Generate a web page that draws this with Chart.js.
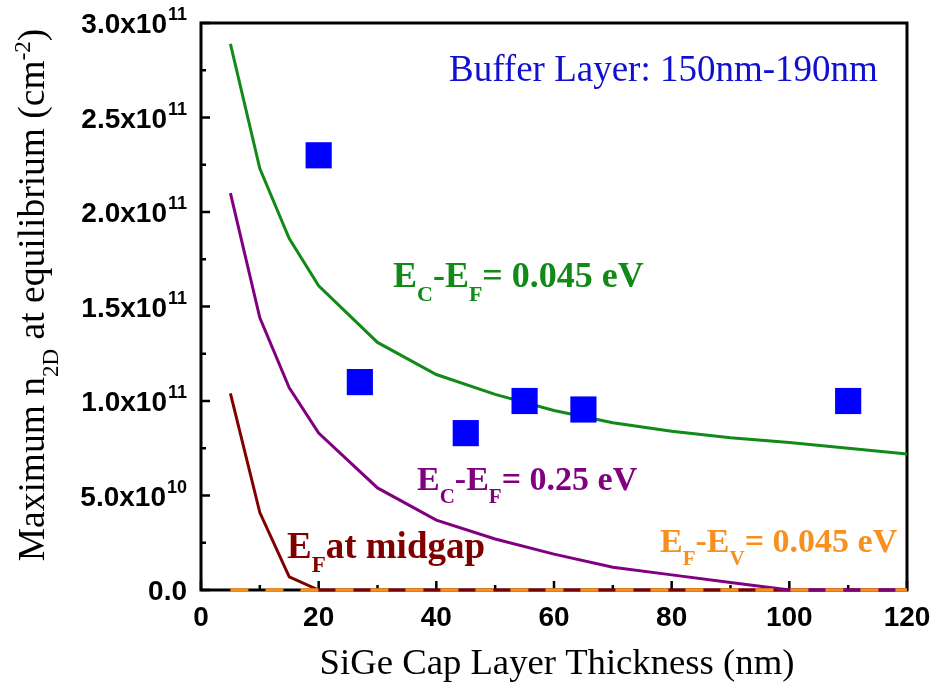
<!DOCTYPE html>
<html>
<head>
<meta charset="utf-8">
<script src="https://cdn.jsdelivr.net/npm/chart.js@4/dist/chart.umd.min.js"></script>
<style>
  html, body { margin: 0; padding: 0; background: #fff; }
  #wrap { width: 937px; height: 690px; }
</style>
</head>
<body>
<div id="wrap"><canvas id="capChart" width="937" height="690"></canvas></div>
<script>
// cap thickness (nm) where the simulated curves were evaluated
const thickness = [5, 10, 15, 20, 30, 40, 50, 60, 70, 80, 90, 100, 110, 120];

// simulated maximum n2D (cm^-2) for each Fermi level position
const ecEf045 = [2.89e11, 2.23e11, 1.86e11, 1.61e11, 1.31e11, 1.14e11, 1.035e11, 0.95e11, 0.885e11, 0.84e11, 0.805e11, 0.78e11, 0.75e11, 0.72e11];
const ecEf25  = [2.10e11, 1.44e11, 1.07e11, 0.83e11, 0.54e11, 0.37e11, 0.27e11, 0.19e11, 0.12e11, 0.08e11, 0.04e11, 0, 0, 0];
const midgap  = [1.04e11, 0.41e11, 0.07e11, 0, 0, 0, 0, 0, 0, 0, 0, 0, 0, 0];
const efEv045 = [0, 0, 0, 0, 0, 0, 0, 0, 0, 0, 0, 0, 0, 0];

// measured samples
const measThick = [20, 27, 45, 55, 65, 110];
const measN2D   = [2.30e11, 1.10e11, 0.83e11, 1.00e11, 0.955e11, 1.00e11];

// axis ticks
const xMajor = [0, 20, 40, 60, 80, 100, 120];
const xMinor = [10, 30, 50, 70, 90, 110];
const yMajor = [0, 0.5e11, 1.0e11, 1.5e11, 2.0e11, 2.5e11, 3.0e11];
const yMinor = [0.25e11, 0.75e11, 1.25e11, 1.75e11, 2.25e11, 2.75e11];
const yTickText = ['0.0', '5.0x10', '1.0x10', '1.5x10', '2.0x10', '2.5x10', '3.0x10'];
const yTickExp  = ['', '10', '11', '11', '11', '11', '11'];

const GREEN = '#118a18';
const PURPLE = '#800080';
const BROWN = '#800000';
const ORANGE = '#f7901e';
const BLUE = '#0000ff';

const SERIF = '"Liberation Serif", "Times New Roman", serif';
const SANS = '"Liberation Sans", Arial, sans-serif';

function pts(xs, ys) {
  return xs.map((x, i) => ({ x: x, y: ys[i] }));
}

// draws a run of text pieces; pieces may be sub/superscript
function drawRich(ctx, pieces, x, y, size, weight, color, align) {
  const subSize = Math.round(size * 0.62);
  let total = 0;
  const widths = pieces.map(p => {
    ctx.font = weight + ' ' + (p.sub || p.sup ? subSize : size) + 'px ' + SERIF;
    const w = ctx.measureText(p.t).width;
    total += w;
    return w;
  });
  let cx = align === 'center' ? x - total / 2 : x;
  ctx.fillStyle = color;
  ctx.textAlign = 'left';
  ctx.textBaseline = 'alphabetic';
  pieces.forEach((p, i) => {
    ctx.font = weight + ' ' + (p.sub || p.sup ? subSize : size) + 'px ' + SERIF;
    let dy = 0;
    if (p.sub) dy = size * 0.38;
    if (p.sup) dy = -size * 0.38;
    ctx.fillText(p.t, cx, y + dy);
    cx += widths[i];
  });
}

const decorations = {
  id: 'decorations',
  beforeDatasetsDraw(chart) {
    const ctx = chart.ctx;
    const xs = chart.scales.x, ys = chart.scales.y;
    const a = chart.chartArea;
    ctx.save();
    ctx.strokeStyle = '#000';
    ctx.lineWidth = 3;
    ctx.strokeRect(a.left, a.top, a.right - a.left, a.bottom - a.top);

    // inward ticks
    ctx.lineWidth = 2.5;
    ctx.beginPath();
    xMajor.forEach(v => { const px = xs.getPixelForValue(v); ctx.moveTo(px, a.bottom); ctx.lineTo(px, a.bottom - 9); });
    xMinor.forEach(v => { const px = xs.getPixelForValue(v); ctx.moveTo(px, a.bottom); ctx.lineTo(px, a.bottom - 5); });
    yMajor.forEach(v => { const py = ys.getPixelForValue(v); ctx.moveTo(a.left, py); ctx.lineTo(a.left + 9, py); });
    yMinor.forEach(v => { const py = ys.getPixelForValue(v); ctx.moveTo(a.left, py); ctx.lineTo(a.left + 5, py); });
    ctx.stroke();

    // tick labels
    ctx.fillStyle = '#000';
    ctx.textBaseline = 'alphabetic';
    ctx.font = 'bold 28px ' + SANS;
    ctx.textAlign = 'center';
    xMajor.forEach(v => ctx.fillText(String(v), xs.getPixelForValue(v), a.bottom + 36));

    yMajor.forEach((v, i) => {
      const py = ys.getPixelForValue(v);
      const right = a.left - 14;
      if (!yTickExp[i]) {
        ctx.font = 'bold 28px ' + SANS;
        ctx.textAlign = 'right';
        ctx.fillText(yTickText[i], right, py + 10);
        return;
      }
      ctx.font = 'bold 18px ' + SANS;
      const ew = ctx.measureText(yTickExp[i]).width;
      ctx.textAlign = 'right';
      ctx.fillText(yTickExp[i], right, py - 3);
      ctx.font = 'bold 28px ' + SANS;
      ctx.fillText(yTickText[i], right - ew - 1, py + 10);
    });

    // axis titles
    drawRich(ctx, [{ t: 'SiGe Cap Layer Thickness (nm)' }], 557, 674, 36.7, 'normal', '#000', 'center');
    ctx.save();
    ctx.translate(44, 295);
    ctx.rotate(-Math.PI / 2);
    drawRich(ctx, [
      { t: 'Maximum n' }, { t: '2D', sub: true }, { t: ' at equilibrium (cm' },
      { t: '-2', sup: true }, { t: ')' }
    ], 0, 0, 37.5, 'normal', '#000', 'center');
    ctx.restore();
    ctx.restore();
  },
  afterDatasetsDraw(chart) {
    const ctx = chart.ctx;
    ctx.save();
    drawRich(ctx, [{ t: 'Buffer Layer: 150nm-190nm' }], 449, 81, 37, 'normal', '#1010d0', 'left');
    drawRich(ctx, [{ t: 'E' }, { t: 'C', sub: true }, { t: '-E' }, { t: 'F', sub: true }, { t: '= 0.045 eV' }],
      393, 287, 36, 'bold', GREEN, 'left');
    drawRich(ctx, [{ t: 'E' }, { t: 'C', sub: true }, { t: '-E' }, { t: 'F', sub: true }, { t: '= 0.25 eV' }],
      417, 490, 34, 'bold', PURPLE, 'left');
    drawRich(ctx, [{ t: 'E' }, { t: 'F', sub: true }, { t: 'at midgap' }],
      287, 558, 37, 'bold', BROWN, 'left');
    drawRich(ctx, [{ t: 'E' }, { t: 'F', sub: true }, { t: '-E' }, { t: 'V', sub: true }, { t: '= 0.045 eV' }],
      660, 552, 34, 'bold', ORANGE, 'left');
    ctx.restore();
  }
};

new Chart(document.getElementById('capChart').getContext('2d'), {
  type: 'line',
  data: {
    datasets: [
      {
        type: 'scatter',
        label: 'measured',
        data: pts(measThick, measN2D),
        pointStyle: 'rect',
        pointRadius: 18.5,
        pointHoverRadius: 18.5,
        backgroundColor: BLUE,
        borderColor: BLUE,
        borderWidth: 0,
        order: 0
      },
      {
        label: 'EF-EV = 0.045 eV',
        data: pts(thickness, efEv045),
        borderColor: ORANGE,
        borderWidth: 3.5,
        borderDash: [18, 17],
        pointRadius: 0,
        order: 1
      },
      {
        label: 'EC-EF = 0.045 eV',
        data: pts(thickness, ecEf045),
        borderColor: GREEN,
        borderWidth: 3,
        pointRadius: 0,
        order: 2
      },
      {
        label: 'EC-EF = 0.25 eV',
        data: pts(thickness, ecEf25),
        borderColor: PURPLE,
        borderWidth: 3,
        pointRadius: 0,
        order: 3
      },
      {
        label: 'EF at midgap',
        data: pts(thickness, midgap),
        borderColor: BROWN,
        borderWidth: 3,
        pointRadius: 0,
        order: 4
      }
    ]
  },
  options: {
    responsive: false,
    animation: false,
    clip: false,
    layout: { padding: { left: 201, top: 23, right: 30, bottom: 100 } },
    plugins: {
      legend: { display: false },
      tooltip: { enabled: false }
    },
    scales: {
      x: { type: 'linear', min: 0, max: 120, display: false },
      y: { type: 'linear', min: 0, max: 3e11, display: false }
    }
  },
  plugins: [decorations]
});
</script>
</body>
</html>
